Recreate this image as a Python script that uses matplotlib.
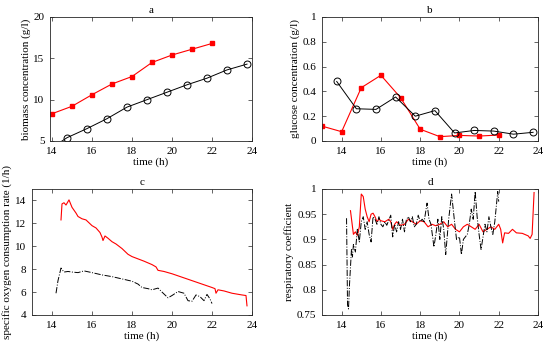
import matplotlib
matplotlib.use("Agg")
import matplotlib.pyplot as plt

plt.rcParams['font.family'] = ['Liberation Serif', 'DejaVu Serif']
plt.rcParams['font.size'] = 8

# a: biomass
t_a_red = [14, 15, 16, 17, 18, 19, 20, 21, 22]
x_red = [8.3, 9.2, 10.6, 11.9, 12.8, 14.5, 15.4, 16.1, 16.8]
t_a_blk = [13.75, 14.75, 15.75, 16.75, 17.75, 18.75, 19.75, 20.75, 21.75, 22.75, 23.75]
x_blk = [3.8, 5.4, 6.5, 7.7, 9.1, 10.0, 10.9, 11.8, 12.6, 13.6, 14.3]

# b: glucose
t_b_red = [13, 14, 15, 16, 17, 18, 19, 20, 21, 22]
g_red = [0.12, 0.075, 0.43, 0.53, 0.35, 0.095, 0.035, 0.045, 0.04, 0.048]
t_b_blk = [13.75, 14.75, 15.75, 16.75, 17.75, 18.75, 19.75, 20.75, 21.75, 22.75, 23.75]
g_blk = [0.48, 0.26, 0.255, 0.355, 0.2, 0.245, 0.065, 0.085, 0.08, 0.055, 0.07]

# c: specific oxygen consumption rate
t_c_red = [14.45, 14.5, 14.6, 14.7, 14.85, 15.0, 15.2, 15.3, 15.5, 15.7, 16.0, 16.2,
           16.4, 16.5, 16.55, 16.65, 16.8, 17.0, 17.2, 17.5, 17.8, 18.0, 18.3, 18.6,
           19.0, 19.2, 19.3, 19.6, 20.0, 20.5, 21.0, 21.5, 22.0, 22.15, 22.2, 22.3,
           22.6, 23.0, 23.5, 23.7, 23.75]
q_red = [12.3, 13.7, 13.8, 13.6, 14.05, 13.4, 12.9, 12.6, 12.4, 12.3, 11.8, 11.6,
         11.2, 10.8, 10.5, 10.9, 10.7, 10.4, 10.2, 9.8, 9.3, 9.1, 8.9, 8.7,
         8.4, 8.2, 7.9, 7.8, 7.6, 7.3, 7.0, 6.7, 6.4, 6.3, 5.9, 6.2,
         6.1, 5.9, 5.75, 5.7, 4.8]
t_c_blk = [14.2, 14.3, 14.45, 14.6, 14.8, 15.0, 15.3, 15.6, 16.0, 16.5, 17.0, 17.5,
           18.0, 18.3, 18.5, 18.8, 19.0, 19.3, 19.5, 19.8, 20.0, 20.3, 20.6, 20.8,
           21.0, 21.2, 21.4, 21.6, 21.75, 21.9, 22.0]
q_blk = [5.9, 7.0, 8.1, 7.75, 7.8, 7.75, 7.7, 7.85, 7.7, 7.5, 7.35, 7.15,
         6.95, 6.7, 6.4, 6.3, 6.2, 6.35, 6.0, 5.5, 5.7, 6.05, 5.9, 5.25,
         5.2, 5.75, 5.6, 5.25, 5.8, 5.4, 5.0]

# d: respiratory coefficient
t_d_red = [14.45, 14.6, 14.7, 14.8, 14.9, 15.0, 15.1, 15.2, 15.3, 15.4, 15.5, 15.6,
           15.7, 15.8, 15.9, 16.0, 16.2, 16.4, 16.5, 16.6, 16.7, 16.8, 17.0, 17.2,
           17.4, 17.6, 17.8, 18.0, 18.2, 18.4, 18.6, 18.8, 19.0, 19.2, 19.4, 19.6,
           19.8, 20.0, 20.2, 20.4, 20.6, 20.8, 21.0, 21.2, 21.4, 21.6, 21.8, 22.0,
           22.1, 22.2, 22.3, 22.5, 22.7, 22.9, 23.2, 23.5, 23.6, 23.7, 23.8]
rq_red = [0.957, 0.91, 0.915, 0.908, 0.925, 0.99, 0.985, 0.96, 0.945, 0.935, 0.95, 0.952,
          0.945, 0.935, 0.94, 0.937, 0.935, 0.94, 0.935, 0.92, 0.93, 0.935, 0.928, 0.93,
          0.94, 0.935, 0.93, 0.937, 0.935, 0.925, 0.93, 0.927, 0.93, 0.935, 0.925, 0.93,
          0.92, 0.915, 0.925, 0.93, 0.925, 0.92, 0.93, 0.915, 0.92, 0.925, 0.92, 0.93,
          0.92, 0.893, 0.913, 0.912, 0.92, 0.913, 0.912, 0.907, 0.902, 0.91, 0.993]
t_d_blk = [14.25, 14.3, 14.35, 14.4, 14.5, 14.55, 14.6, 14.7, 14.8, 14.9, 15.0, 15.1,
           15.2, 15.3, 15.4, 15.5, 15.6, 15.7, 15.8, 15.9, 16.0, 16.1, 16.2, 16.3,
           16.5, 16.6, 16.7, 16.8, 16.9, 17.0, 17.1, 17.2, 17.3, 17.4, 17.5, 17.6,
           17.7, 17.8, 17.9, 18.0, 18.1, 18.2, 18.35, 18.45, 18.55, 18.7, 18.8, 18.9,
           19.0, 19.1, 19.2, 19.3, 19.45, 19.6, 19.75, 19.85, 20.0, 20.1, 20.2, 20.3,
           20.4, 20.5, 20.6, 20.7, 20.8, 20.9, 21.0, 21.1, 21.2, 21.3, 21.4, 21.5,
           21.6, 21.7, 21.8, 21.9, 21.95, 22.0]
rq_blk = [0.942, 0.77, 0.762, 0.81, 0.88, 0.865, 0.89, 0.875, 0.92, 0.895, 0.935, 0.945,
          0.92, 0.935, 0.91, 0.895, 0.945, 0.94, 0.93, 0.945, 0.93, 0.925, 0.935, 0.928,
          0.948, 0.905, 0.93, 0.915, 0.935, 0.92, 0.94, 0.915, 0.94, 0.945, 0.935, 0.945,
          0.925, 0.93, 0.948, 0.935, 0.94, 0.935, 0.972, 0.94, 0.93, 0.885, 0.91, 0.94,
          0.9, 0.945, 0.92, 0.87, 0.94, 0.99, 0.935, 0.9, 0.905, 0.87, 0.9, 0.905,
          0.91, 0.93, 0.96, 0.94, 0.995, 0.945, 0.91, 0.88, 0.905, 0.93, 0.915, 0.945,
          0.925, 0.91, 0.935, 0.975, 0.995, 0.975]

W, H = 550, 348
fig = plt.figure(figsize=(W / 100, H / 100), dpi=100)


def box(l, r, t, b):
    return fig.add_axes([l / W, 1 - b / H, (r - l) / W, (b - t) / H])


def style(ax):
    for s in ax.spines.values():
        s.set_color('#262626')
        s.set_linewidth(0.6)
    ax.tick_params(direction='in', top=True, right=True, length=3, width=0.5,
                   colors='#262626', labelcolor='black', pad=4)
    ax.set_xlabel('time (h)', labelpad=1)


ax_a = box(50, 252, 17, 141)
ax_a.plot(t_a_red, x_red, color='red', lw=0.8, marker='s', ms=3)
ax_a.plot(t_a_blk, x_blk, color='black', lw=0.7, marker='o', ms=5, mfc='none', mew=0.7)
ax_a.set_xlim(13.9, 24)
ax_a.set_ylim(5, 20)
ax_a.set_xticks([14, 16, 18, 20, 22, 24])
ax_a.set_yticks([5, 10, 15, 20])
ax_a.set_ylabel('biomass concentration (g/l)', labelpad=2)
ax_a.set_title('a', fontsize=8, pad=3)
style(ax_a)

ax_b = box(322, 538, 17, 141)
ax_b.plot(t_b_red, g_red, color='red', lw=0.8, marker='s', ms=3)
ax_b.plot(t_b_blk, g_blk, color='black', lw=0.7, marker='o', ms=5, mfc='none', mew=0.7)
ax_b.set_xlim(13, 24)
ax_b.set_ylim(0, 1)
ax_b.set_xticks([14, 16, 18, 20, 22, 24])
ax_b.set_yticks([0, 0.2, 0.4, 0.6, 0.8, 1])
ax_b.set_yticklabels(['0', '0.2', '0.4', '0.6', '0.8', '1'])
ax_b.set_ylabel('glucose concentration (g/l)', labelpad=2)
ax_b.set_title('b', fontsize=8, pad=3)
style(ax_b)

ax_c = box(32, 252, 189, 315)
ax_c.plot(t_c_red, q_red, color='red', lw=0.8)
ax_c.plot(t_c_blk, q_blk, color='black', lw=0.7, ls='-.')
ax_c.set_xlim(13, 24)
ax_c.set_ylim(4, 15)
ax_c.set_xticks([14, 16, 18, 20, 22, 24])
ax_c.set_yticks([4, 6, 8, 10, 12, 14])
ax_c.set_ylabel('specific oxygen consumption rate (1/h)', labelpad=2)
ax_c.set_title('c', fontsize=8, pad=3)
style(ax_c)

ax_d = box(322, 538, 189, 315)
ax_d.plot(t_d_red, rq_red, color='red', lw=0.8)
ax_d.plot(t_d_blk, rq_blk, color='black', lw=0.7, ls='-.')
ax_d.set_xlim(13, 24)
ax_d.set_ylim(0.75, 1)
ax_d.set_xticks([14, 16, 18, 20, 22, 24])
ax_d.set_yticks([0.75, 0.8, 0.85, 0.9, 0.95, 1])
ax_d.set_yticklabels(['0.75', '0.8', '0.85', '0.9', '0.95', '1'])
ax_d.set_ylabel('respiratory coefficient', labelpad=2)
ax_d.set_title('d', fontsize=8, pad=3)
style(ax_d)

fig.savefig('out.png', dpi=100)
